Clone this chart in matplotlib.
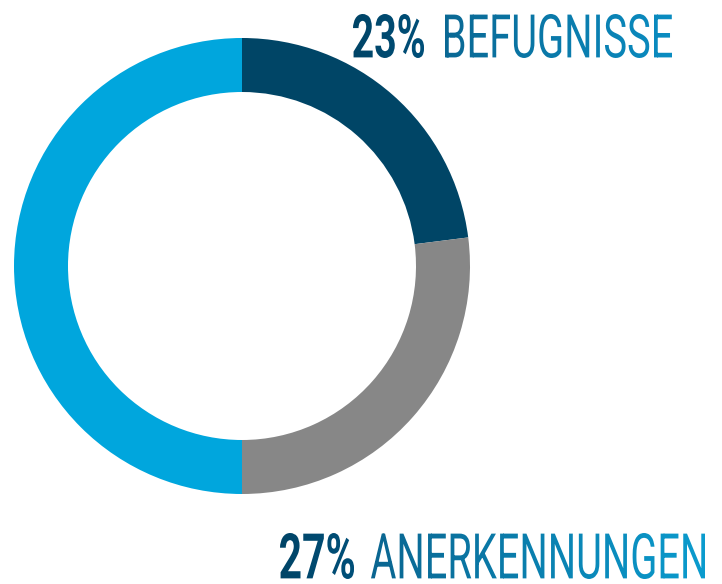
import matplotlib
matplotlib.use("Agg")
import matplotlib.pyplot as plt
import numpy as np
from matplotlib.textpath import TextPath
from matplotlib.patches import PathPatch
from matplotlib.font_manager import FontProperties
from matplotlib.transforms import Affine2D
from matplotlib.colors import LinearSegmentedColormap

categories = ["Befugnisse", "Anerkennungen", "Sonstige"]
values = [23, 27, 50]
colors = ["#004566", "#878787", "#00a6dd"]
label_pct = ["23%", "27%"]
label_txt = ["BEFUGNISSE", "ANERKENNUNGEN"]

W, H = 722, 584
fig = plt.figure(figsize=(W / 100, H / 100), dpi=100)
ax = fig.add_axes([0, 0, 1, 1])

ax.pie(values, colors=colors, startangle=90, counterclock=False,
       center=(242, H - 266), radius=228, frame=True,
       wedgeprops=dict(width=54, edgecolor="none"))


def fitted_text(s, box, weight, c0, c1, lw):
    """Draw text s as a path fitted in box=(x0, x1, ytop, ybottom) in pixel coords (top-left origin)."""
    x0, x1, yt, yb = box
    prop = FontProperties(family="Roboto", weight=weight)
    tp = TextPath((0, 0), s, size=10, prop=prop)
    ext = tp.get_extents()
    sx = (x1 - x0 - lw) / ext.width
    sy = (yb - yt - lw) / ext.height
    tr = Affine2D().translate(-ext.x0, -ext.y0).scale(sx, sy).translate(x0 + lw / 2, H - yb + lw / 2)
    path = tr.transform_path(tp)
    cmap = LinearSegmentedColormap.from_list("g", [c0, c1])
    grad = np.linspace(0, 1, 256).reshape(1, -1)
    outline = PathPatch(path, facecolor="none", edgecolor="none")
    ax.add_patch(outline)
    im = ax.imshow(grad, cmap=cmap, extent=(x0 - 3, x1 + 3, H - yb - 3, H - yt + 3),
                   aspect="auto", interpolation="bilinear", zorder=3)
    im.set_clip_path(outline)
    if lw > 0:
        # thicken strokes with matching gradient-ish edge (use mid color)
        pass


fitted_text(label_pct[0], (353, 424, 14, 58), "bold", "#004466", "#00507a", 0)
fitted_text(label_txt[0], (445, 672, 14, 58), "normal", "#0a6894", "#0a8dc2", 0)
fitted_text(label_pct[1], (280, 354, 533, 579), "bold", "#004466", "#00507a", 0)
fitted_text(label_txt[1], (371, 705, 533, 579), "normal", "#0a6590", "#0a9ccf", 0)

ax.set_xlim(0, W)
ax.set_ylim(0, H)
ax.set_aspect("equal")
ax.axis("off")

fig.savefig("out.png", dpi=100)
